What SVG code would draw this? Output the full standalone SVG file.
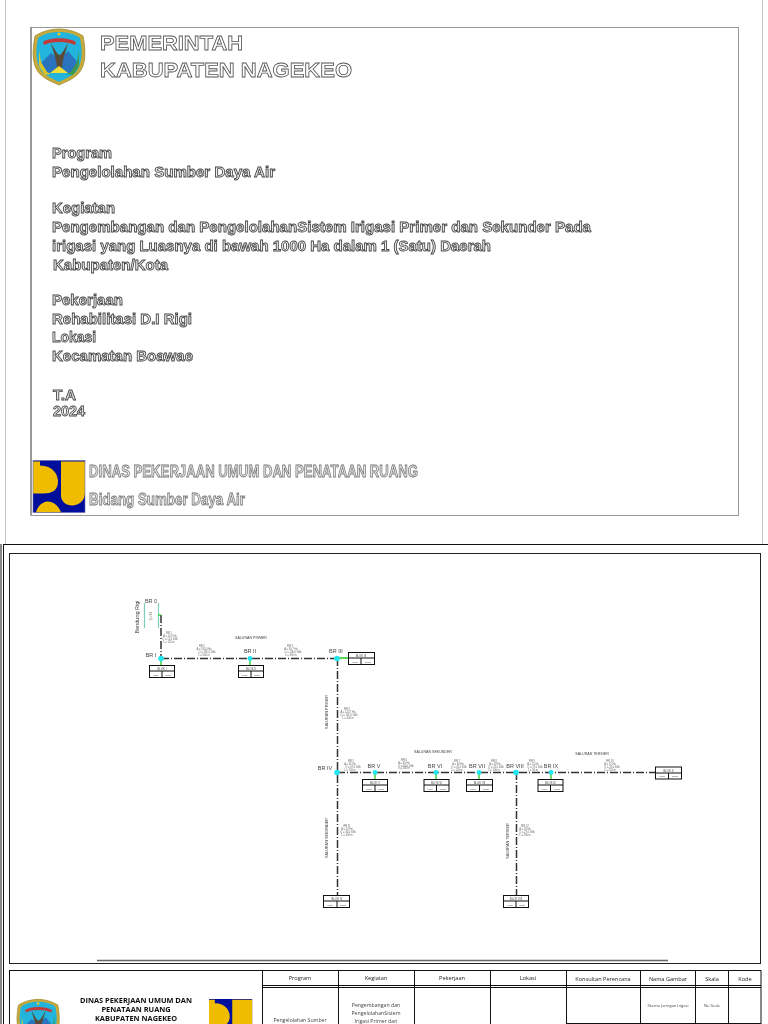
<svg xmlns="http://www.w3.org/2000/svg" width="768" height="1024" viewBox="0 0 768 1024">
<style>
.o{font-family:"Liberation Sans",Arial,sans-serif;font-weight:700;fill:#fff;stroke:#555;stroke-width:.8}
.t1{font-size:20.500px}
.t2{font-size:14px;fill:#eee;stroke:#444}
.t3{font-size:16px;stroke:#777;fill:#e4e4e4}
.lb{font-family:"Liberation Sans",Arial,sans-serif;fill:#444;text-anchor:middle}
.br{font-size:5.500px}
.sm{font-size:2.600px;fill:#666}
.bx{font-size:2.800px}
.lux{font-size:2.400px}
.blk{fill:#fff;stroke:#111;stroke-width:1}
.dash{fill:none;stroke:#333;stroke-width:1.500;stroke-dasharray:8 2 1 2}
.grn{fill:none;stroke:#22cc22;stroke-width:1.300}
.cy{fill:#22e6f0}
.tb{font-family:"Open Sans","Liberation Sans",sans-serif;fill:#222;text-anchor:middle}
.hd{font-size:5.600px}
.bd{font-size:5.200px;fill:#444}
.sm2{font-size:4px;fill:#444}
.ti{font-family:"Open Sans","Liberation Sans",sans-serif;font-weight:700;font-size:7.400px;fill:#111;text-anchor:middle}
</style>
<defs>
<filter id="soft" x="-5%" y="-5%" width="110%" height="110%"><feGaussianBlur stdDeviation=".35"/></filter>
<g id="crest">
<path d="M27 1C18 1 9 4 3 8C0 24 0 38 8 46C14 52 21 54 27 57C33 54 40 52 46 46C54 38 54 24 51 8C45 4 36 1 27 1Z" fill="#c9a93a" stroke="#9a8a30" stroke-width=".8"/>
<path d="M27 4C19 4 11 6 6 10C3 24 4 36 10 44C15 49 22 51 27 54C32 51 39 49 44 44C50 36 51 24 48 10C43 6 35 4 27 4Z" fill="#22b4dc"/>
<path d="M8 36L19 25L27 31L36 23L47 36L38 45H16Z" fill="#2a74bd"/>
<path d="M11 14C18 9 36 9 44 14L43 17C35 13 19 13 12 17Z" fill="#c23a3a"/>
<path d="M19 15C21 24 24 28 25 40H30C31 28 34 24 36 15C32 22 30 26 27.500 27C25 26 23 22 19 15Z" fill="#5a4a38"/>
<path d="M7 22L9 34L15 44L19 46L13 47L7 38Z" fill="#d9c52a"/>
<path d="M47 22L45 34L39 44L35 46L41 47L47 38Z" fill="#3d9a4a"/>
<path d="M18 45L27 38L36 45Z" fill="#f2de3a"/>
<circle cx="27" cy="6" r="1.500" fill="#e8c92a"/>
</g>
<g id="pu">
<rect x="0" y="0" width="52" height="52" fill="#000e9c"/>
<path d="M0 1H7V5C20 5 25 14 25 21C25 30 19 33 10 33H0Z" fill="#f0bc00"/>
<path d="M28 1H52V32C52 40 46 45 39 45C33 45 28 41 28 35Z" fill="#f0bc00"/>
<path d="M3 52C5 44 11 41 15 41C21 41 26 46 28 52Z" fill="#f0bc00"/>
</g>
</defs>

<g id="cover-page">
<path d="M5.500 0V544M762.500 0V544" stroke="#c4c4c4" fill="none"/>
<rect x="31" y="27.500" width="707.500" height="488" fill="#fff" stroke="#999" stroke-width="1"/>
<path d="M31 27V515" stroke="#666" fill="none"/>
<use href="#crest" x="32" y="28"/>
<g filter="url(#soft)">
<text class="o t1" x="100" y="50" textLength="143" lengthAdjust="spacingAndGlyphs">PEMERINTAH</text>
<text class="o t1" x="100" y="77" textLength="252" lengthAdjust="spacingAndGlyphs">KABUPATEN NAGEKEO</text>
<text class="o t2" x="52" y="158" textLength="60" lengthAdjust="spacingAndGlyphs">Program</text>
<text class="o t2" x="52" y="177" textLength="223" lengthAdjust="spacingAndGlyphs">Pengelolahan Sumber Daya Air</text>
<text class="o t2" x="52" y="213" textLength="63" lengthAdjust="spacingAndGlyphs">Kegiatan</text>
<text class="o t2" x="52" y="232" textLength="539" lengthAdjust="spacingAndGlyphs">Pengembangan dan PengelolahanSistem Irigasi Primer dan Sekunder Pada</text>
<text class="o t2" x="52" y="251" textLength="439" lengthAdjust="spacingAndGlyphs">irigasi yang Luasnya di bawah 1000 Ha dalam 1 (Satu) Daerah</text>
<text class="o t2" x="53" y="270" textLength="115" lengthAdjust="spacingAndGlyphs">Kabupaten/Kota</text>
<text class="o t2" x="52" y="305" textLength="71" lengthAdjust="spacingAndGlyphs">Pekerjaan</text>
<text class="o t2" x="52" y="324" textLength="140" lengthAdjust="spacingAndGlyphs">Rehabilitasi D.I Rigi</text>
<text class="o t2" x="52" y="342" textLength="44" lengthAdjust="spacingAndGlyphs">Lokasi</text>
<text class="o t2" x="52" y="361" textLength="141" lengthAdjust="spacingAndGlyphs">Kecamatan Boawae</text>
<text class="o t2" x="53" y="399.500" textLength="23" lengthAdjust="spacingAndGlyphs">T.A</text>
<text class="o t2" x="53" y="416" textLength="32" lengthAdjust="spacingAndGlyphs">2024</text>
<text class="o t3" x="89" y="477" textLength="329" lengthAdjust="spacingAndGlyphs">DINAS PEKERJAAN UMUM DAN PENATAAN RUANG</text>
<text class="o t3" x="89" y="505" textLength="156" lengthAdjust="spacingAndGlyphs">Bidang Sumber Daya Air</text>
</g>
<g transform="translate(33 460.500)"><use href="#pu"/><rect width="52" height="52" fill="none" stroke="#6a6ab0" stroke-width=".6"/></g>
</g>

<g id="sheet">
<path d="M3 544.500H768M1 544V1024M3.500 544V1024" stroke="#111" fill="none"/>
<rect x="9.500" y="553.500" width="751" height="410" fill="#fff" stroke="#222"/>
<path d="M97 960.500H668" stroke="#666" stroke-width="1.500"/>
</g>

<g id="connectors">
<path class="dash" d="M161 615V658"/>
<path class="dash" d="M161 658.500H337"/>
<path class="dash" d="M337.500 658V895"/>
<path class="dash" d="M337 772.500H655"/>
<path class="dash" d="M516.500 772V895"/>
<path d="M144.500 603V628M158.500 603V628" stroke="#7fd0bc" stroke-width="1.200" fill="none"/>
<path class="grn" d="M158 615H161"/>
<path class="grn" d="M161 658V665M250 658V665M337 658H348M375 772V779M436 772V779M479 772V779M551 772V779"/>
</g>

<g filter="url(#soft)">
<g id="br0"><text class="lb br" x="151" y="603">BR 0</text><text class="lb br" transform="translate(139 617) rotate(-90)">Bendung Rigi</text><text class="lb sm" transform="translate(152 616) rotate(-90)">Q = 0.6</text></g>
<g id="br1"><circle class="cy" cx="161" cy="658.500" r="2.800"/><text class="lb br" x="151" y="657">BR I</text></g>
<g id="br2"><circle class="cy" cx="250" cy="658.500" r="2.400"/><text class="lb br" x="250" y="653">BR II</text></g>
<g id="br3"><circle class="cy" cx="337" cy="658.500" r="2.800"/><text class="lb br" x="336" y="653">BR III</text></g>
<g id="br4"><circle class="cy" cx="337" cy="772.500" r="2.800"/><text class="lb br" x="325" y="770">BR IV</text></g>
<g id="br5"><circle class="cy" cx="375" cy="772.500" r="2.400"/><text class="lb br" x="374" y="768">BR V</text></g>
<g id="br6"><circle class="cy" cx="436" cy="772.500" r="2.400"/><text class="lb br" x="435" y="768">BR VI</text></g>
<g id="br7"><circle class="cy" cx="479" cy="772.500" r="2.400"/><text class="lb br" x="477" y="768">BR VII</text></g>
<g id="br8"><circle class="cy" cx="516" cy="772.500" r="2.800"/><text class="lb br" x="515" y="768">BR VIII</text></g>
<g id="br9"><circle class="cy" cx="551" cy="772.500" r="2.400"/><text class="lb br" x="551" y="768">BR IX</text></g>
</g>

<g id="blok1"><rect class="blk" x="149.500" y="665.500" width="25" height="12"/><path class="blk" d="M149.500 671H174.500M162 671V677.500"/><text class="lb bx" x="162" y="669.500">BLOK I</text><text class="lb lux" x="155.500" y="675.500">Luas</text><text class="lb lux" x="168" y="675.500">Debit</text></g>
<g id="blok2"><rect class="blk" x="238.500" y="665.500" width="25" height="12"/><path class="blk" d="M238.500 671H263.500M251 671V677.500"/><text class="lb bx" x="251" y="669.500">BLOK II</text><text class="lb lux" x="244.500" y="675.500">Luas</text><text class="lb lux" x="257" y="675.500">Debit</text></g>
<g id="blok3"><rect class="blk" x="348.500" y="652.500" width="26" height="12"/><path class="blk" d="M348.500 658H374.500M361 658V664.500"/><text class="lb bx" x="361" y="656.500">BLOK III</text><text class="lb lux" x="355" y="662.500">Luas</text><text class="lb lux" x="368" y="662.500">Debit</text></g>
<g id="blok4"><rect class="blk" x="362.500" y="779.500" width="25" height="12"/><path class="blk" d="M362.500 785H387.500M375 785V791.500"/><text class="lb bx" x="375" y="783.500">BLOK V</text><text class="lb lux" x="369" y="789.500">Luas</text><text class="lb lux" x="381" y="789.500">Debit</text></g>
<g id="blok5"><rect class="blk" x="424" y="779.500" width="25" height="12"/><path class="blk" d="M424 785H449M436.500 785V791.500"/><text class="lb bx" x="436.500" y="783.500">BLOK VI</text><text class="lb lux" x="430" y="789.500">Luas</text><text class="lb lux" x="443" y="789.500">Debit</text></g>
<g id="blok6"><rect class="blk" x="466.500" y="779.500" width="26" height="12"/><path class="blk" d="M466.500 785H492.500M479.500 785V791.500"/><text class="lb bx" x="479.500" y="783.500">BLOK VII</text><text class="lb lux" x="473" y="789.500">Luas</text><text class="lb lux" x="486" y="789.500">Debit</text></g>
<g id="blok7"><rect class="blk" x="538" y="779.500" width="25" height="12"/><path class="blk" d="M538 785H563M550.500 785V791.500"/><text class="lb bx" x="550.500" y="783.500">BLOK IX</text><text class="lb lux" x="544" y="789.500">Luas</text><text class="lb lux" x="557" y="789.500">Debit</text></g>
<g id="blok8"><rect class="blk" x="655.500" y="767" width="26" height="12"/><path class="blk" d="M655.500 773H681.500M668.500 773V779"/><text class="lb bx" x="668.500" y="771.500">BLOK X</text><text class="lb lux" x="662" y="777">Luas</text><text class="lb lux" x="675" y="777">Debit</text></g>
<g id="blok9"><rect class="blk" x="323.500" y="895.500" width="26" height="12"/><path class="blk" d="M323.500 901H349.500M337 901V907.500"/><text class="lb bx" x="337" y="899.500">BLOK IV</text><text class="lb lux" x="330" y="905.500">Luas</text><text class="lb lux" x="343" y="905.500">Debit</text></g>
<g id="blok10"><rect class="blk" x="503.500" y="895.500" width="25" height="12"/><path class="blk" d="M503.500 901H528.500M516 901V907.500"/><text class="lb bx" x="516" y="899.500">BLOK VIII</text><text class="lb lux" x="510" y="905.500">Luas</text><text class="lb lux" x="522" y="905.500">Debit</text></g>

<g id="labels" filter="url(#soft)">
<text class="lb" font-size="3.600" x="251" y="639">SALURAN PRIMER</text>
<text class="lb" font-size="3.600" x="433" y="753">SALURAN SEKUNDER</text>
<text class="lb" font-size="3.600" x="592" y="755">SALURAN TERSIER</text>
<text class="lb" font-size="3.800" transform="translate(328 712) rotate(-90)">SALURAN PRIMER</text>
<text class="lb" font-size="3.800" transform="translate(328 838) rotate(-90)">SALURAN SEKUNDER</text>
<text class="lb" font-size="3.800" transform="translate(509 841) rotate(-90)">SALURAN TERSIER</text>
<text class="lb sm" x="169" y="633.500">RR 1</text><text class="lb sm" x="170" y="637">A = 10.0 Ha</text><text class="lb sm" x="170" y="640">Q = 15.0 l/dtk</text><text class="lb sm" x="169" y="643">L = 120 m</text>
<text class="lb sm" x="202" y="647">RR 2</text><text class="lb sm" x="204" y="650">A = 190.0 Ha</text><text class="lb sm" x="207" y="653">Q = 285.0 l/dtk</text><text class="lb sm" x="204" y="656">L = 500 m</text>
<text class="lb sm" x="290" y="647">RR 3</text><text class="lb sm" x="291" y="650">A = 90.7 Ha</text><text class="lb sm" x="293" y="653">Q = 136.0 l/dtk</text><text class="lb sm" x="291" y="656">L = 350 m</text>
<text class="lb sm" x="347" y="710">RR 4</text><text class="lb sm" x="348" y="713">A = 120.7 Ha</text><text class="lb sm" x="349" y="716">Q = 181.0 l/dtk</text><text class="lb sm" x="348" y="719">L = 400 m</text>
<text class="lb sm" x="351" y="762">RR 5</text><text class="lb sm" x="350" y="765">A = 45 Ha</text><text class="lb sm" x="353" y="768">Q = 67.0 l/dtk</text><text class="lb sm" x="350" y="771">L = 150 m</text>
<text class="lb sm" x="404" y="760.500">RR 6</text><text class="lb sm" x="404" y="763.500">A = 40 Ha</text><text class="lb sm" x="406" y="766.500">Q = 60.0 l/dtk</text><text class="lb sm" x="404" y="769">L = 200 m</text>
<text class="lb sm" x="457" y="762">RR 7</text><text class="lb sm" x="458" y="765">A = 30 Ha</text><text class="lb sm" x="459" y="768">Q = 45.0 l/dtk</text><text class="lb sm" x="457" y="771">L = 120 m</text>
<text class="lb sm" x="494" y="762">RR 8</text><text class="lb sm" x="495" y="765">A = 28 Ha</text><text class="lb sm" x="496" y="768">Q = 42.0 l/dtk</text><text class="lb sm" x="494" y="771">L = 100 m</text>
<text class="lb sm" x="532" y="762">RR 9</text><text class="lb sm" x="533" y="765">A = 25 Ha</text><text class="lb sm" x="535" y="768">Q = 37.0 l/dtk</text><text class="lb sm" x="533" y="771">L = 90 m</text>
<text class="lb sm" x="610" y="762">RR 10</text><text class="lb sm" x="610" y="765">A = 15 Ha</text><text class="lb sm" x="612" y="768">Q = 22.0 l/dtk</text><text class="lb sm" x="610" y="771">L = 250 m</text>
<text class="lb sm" x="347" y="827">RR 11</text><text class="lb sm" x="347" y="830">A = 20 Ha</text><text class="lb sm" x="348" y="833">Q = 30.0 l/dtk</text><text class="lb sm" x="347" y="836">L = 300 m</text>
<text class="lb sm" x="525" y="827">RR 12</text><text class="lb sm" x="525" y="830">A = 18 Ha</text><text class="lb sm" x="527" y="833">Q = 27.0 l/dtk</text><text class="lb sm" x="525" y="836">L = 280 m</text>
</g>

<g id="title-block">
<rect x="9.500" y="970.500" width="751.500" height="60" fill="#fff" stroke="#111"/>
<path d="M262.500 970V1024M338.500 970V1024M414.500 970V1024M490.500 970V1024M566.500 970V1024M640.500 970V1024M695.500 970V1024M728.500 970V1024" stroke="#111" fill="none"/>
<path d="M262 985.500H761M262 987.500H761" stroke="#111" fill="none"/>
<path d="M566 1023.500H761" stroke="#111" fill="none"/>
<g filter="url(#soft)">
<text class="tb hd" x="300" y="979.500">Program</text>
<text class="tb hd" x="376" y="979.500">Kegiatan</text>
<text class="tb hd" x="452" y="979.500">Pekerjaan</text>
<text class="tb hd" x="528" y="979.500">Lokasi</text>
<text class="tb hd" x="603" y="981">Konsultan Perencana</text>
<text class="tb hd" x="668" y="980.500">Nama Gambar</text>
<text class="tb hd" x="712" y="980.500">Skala</text>
<text class="tb hd" x="745" y="980.500">Kode</text>
<text class="tb bd" x="300" y="1022">Pengelolahan Sumber</text>
<text class="tb bd" x="376" y="1007">Pengembangan dan</text>
<text class="tb bd" x="376" y="1015">PengelolahanSistem</text>
<text class="tb bd" x="376" y="1022.500">Irigasi Primer dan</text>
<text class="tb sm2" x="668" y="1006.500">Skema Jaringan Irigasi</text>
<text class="tb sm2" x="712" y="1006.500">No Scale</text>
<text class="ti" x="136" y="1003">DINAS PEKERJAAN UMUM DAN</text>
<text class="ti" x="136" y="1012">PENATAAN RUANG</text>
<text class="ti" x="136" y="1021">KABUPATEN NAGEKEO</text>
</g>
<g transform="translate(16 998.500) scale(.82)"><use href="#crest"/></g>
<g transform="translate(209 999) scale(.83)"><use href="#pu"/></g>
</g>
</svg>
